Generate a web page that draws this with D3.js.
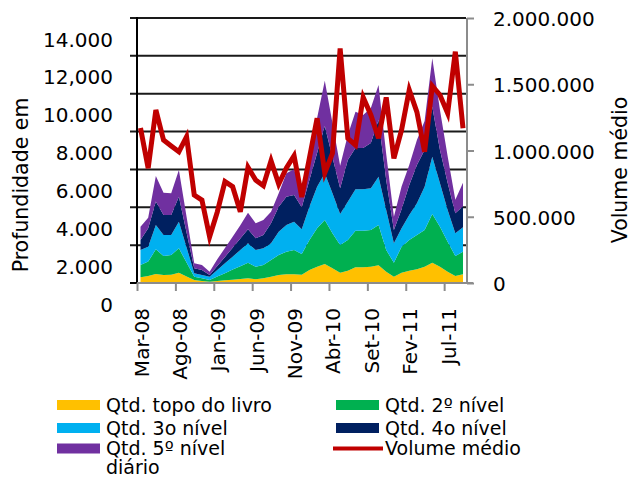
<!DOCTYPE html>
<html>
<head>
<meta charset="utf-8">
<script src="https://cdn.jsdelivr.net/npm/d3@7"></script>
<style>
  html, body { margin: 0; padding: 0; background: #fff; }
  svg text { font-family: "DejaVu Sans", Verdana, sans-serif; fill: #000; }
</style>
</head>
<body>
<svg id="chart" width="631" height="477"></svg>
<script>
// Monthly categories (Mar-08 .. Set-11)
const months = ["Mar-08","Abr-08","Mai-08","Jun-08","Jul-08","Ago-08","Set-08","Out-08","Nov-08","Dez-08",
  "Jan-09","Fev-09","Mar-09","Abr-09","Mai-09","Jun-09","Jul-09","Ago-09","Set-09","Out-09",
  "Nov-09","Dez-09","Jan-10","Fev-10","Mar-10","Abr-10","Mai-10","Jun-10","Jul-10","Ago-10",
  "Set-10","Out-10","Nov-10","Dez-10","Jan-11","Fev-11","Mar-11","Abr-11","Mai-11","Jun-11",
  "Jul-11","Ago-11","Set-11"];

// Book depth by level (stacked)
const topoLivro = [300,370,475,420,440,545,350,160,105,70,105,140,175,210,246,194,246,335,423,458,
  458,440,687,863,1004,775,546,652,828,828,863,933,599,335,546,652,722,863,1074,863,599,370,458];
const nivel2 = [650,760,1305,1010,1040,1285,730,175,140,90,235,380,535,680,828,669,705,880,1056,1197,
  1285,1092,1585,2025,2324,1849,1462,1620,1937,1937,1937,2131,1144,739,1373,1620,1814,1937,2571,2113,1585,1056,1197];
const nivel3 = [790,790,1280,1110,1060,1410,800,175,180,175,350,520,680,860,1022,880,880,881,1233,1409,
  1497,1303,1761,2201,2466,2114,1637,2025,2184,2184,2201,2554,2114,1022,969,1320,1673,2289,3030,2289,1673,1198,1286];
const nivel4 = [530,970,1240,1050,1050,1320,790,265,265,90,210,340,470,600,739,617,705,1057,1321,1497,
  1409,1165,1407,1781,2500,1912,1355,2201,2183,2183,2395,2993,1583,704,1012,1585,2025,1937,2639,1761,1443,1056,1109];
const nivel5 = [700,560,1350,1180,1150,1410,830,265,260,175,350,470,590,700,881,793,792,615,705,1233,
  1356,800,1320,1850,2396,1800,1200,1321,1918,1743,1849,1849,1375,700,1200,1057,1321,1534,2556,2114,1400,720,1250];

// Average daily volume (right axis)
const volumeMedio = [1170000,866000,1306000,1079000,1034000,991000,1104000,664000,626000,349000,
  536000,765000,727000,538000,873000,777000,734000,923000,747000,868000,
  961000,649000,943000,1243000,830000,979000,1771000,1092000,1041000,1401000,
  1268000,1092000,1401000,941000,1155000,1457000,1290000,991000,1487000,1419000,
  1281000,1746000,1167000];

const leftTicks = [0,2000,4000,6000,8000,10000,12000,14000];
const leftTickLabels = ["0","2.000","4.000","6.000","8.000","10.000","12,000","14.000"];
const rightTicks = [0,500000,1000000,1500000,2000000];
const rightTickLabels = ["0","500.000","1.000.000","1.500.000","2.000.000"];
const xTickIdx = [0,5,10,15,20,25,30,35,40];

const seriesKeys = ["topo","n2","n3","n4","n5"];
const seriesNames = ["Qtd. topo do livro","Qtd. 2º nível","Qtd. 3o nível","Qtd. 4o nível","Qtd. 5º nível"];
const seriesColors = ["#FFC000","#00B050","#00B0F0","#002060","#7030A0"];
const lineColor = "#C00000";

const rows = months.map((m, i) => ({
  i, topo: topoLivro[i], n2: nivel2[i], n3: nivel3[i], n4: nivel4[i], n5: nivel5[i], vol: volumeMedio[i]
}));

const svg = d3.select("#chart");
const plot = { left: 137, right: 466, top: 18, bottom: 283 };

const x = d3.scaleLinear().domain([0, months.length - 1]).range([140.5, 463]);
const xTick = d3.scaleLinear().domain([0, months.length - 1]).range([137, 459.5]);
const y = d3.scaleLinear().domain([0, 14000]).range([plot.bottom, plot.top]);
const y2 = d3.scaleLinear().domain([0, 2000000]).range([plot.bottom, plot.top]);

// horizontal gridlines
svg.append("g").selectAll("line").data(leftTicks.slice(1)).join("line")
  .attr("x1", 130).attr("x2", plot.right)
  .attr("y1", d => y(d)).attr("y2", d => y(d))
  .attr("stroke", "#1a1a1a").attr("stroke-width", 2);

// stacked areas
const stack = d3.stack().keys(seriesKeys);
const layers = stack(rows);
const area = d3.area().x(d => x(d.data.i)).y0(d => y(d[0])).y1(d => y(d[1]));
svg.append("g").selectAll("path").data(layers).join("path")
  .attr("d", area).attr("fill", (d, k) => seriesColors[k]);

// left axis
svg.append("line").attr("x1", plot.left).attr("x2", plot.left)
  .attr("y1", plot.top - 1).attr("y2", plot.bottom + 1)
  .attr("stroke", "#000").attr("stroke-width", 2);
svg.append("line").attr("x1", 130).attr("x2", plot.left)
  .attr("y1", y(0)).attr("y2", y(0)).attr("stroke", "#000").attr("stroke-width", 2);
svg.append("g").selectAll("text").data(leftTicks).join("text")
  .attr("x", 113).attr("y", d => y(d) + 21.5).attr("dy", "0.35em")
  .attr("text-anchor", "end").style("font-size", "20px")
  .text((d, k) => leftTickLabels[k]);

// bottom axis
const xAxis = d3.axisBottom(xTick).tickValues(xTickIdx).tickSize(8).tickFormat(() => "");
const gx = svg.append("g").attr("transform", `translate(0,${plot.bottom})`).call(xAxis);
gx.select(".domain").attr("stroke", "#8c8c8c").attr("stroke-width", 2)
  .attr("d", `M${plot.left},0H${plot.right + 7}`);
gx.selectAll(".tick line").attr("stroke", "#8c8c8c").attr("stroke-width", 2);
svg.append("g").selectAll("text").data(xTickIdx).join("text")
  .attr("transform", d => `translate(${xTick(d) + 4.5},308) rotate(-90)`)
  .attr("dy", "0.35em").attr("text-anchor", "end").style("font-size", "20px")
  .text(d => months[d]);

// right axis
const yAxisR = d3.axisRight(y2).tickValues(rightTicks).tickSize(7).tickFormat(() => "");
const gr = svg.append("g").attr("transform", `translate(${plot.right + 1},0)`).call(yAxisR);
gr.select(".domain").attr("stroke", "#8c8c8c").attr("stroke-width", 2)
  .attr("d", `M0,${plot.top}V${plot.bottom}`);
gr.selectAll(".tick line").attr("stroke", "#8c8c8c").attr("stroke-width", 2);
svg.append("g").selectAll("text").data(rightTicks).join("text")
  .attr("x", 493).attr("y", d => y2(d) + 1).attr("dy", "0.35em")
  .style("font-size", "20px")
  .text((d, k) => rightTickLabels[k]);

// average volume line
const line = d3.line().x(d => x(d.i)).y(d => y2(d.vol));
svg.append("path").datum(rows).attr("d", line)
  .attr("fill", "none").attr("stroke", lineColor).attr("stroke-width", 5);

// axis titles
svg.append("text").attr("transform", "translate(21,185) rotate(-90)")
  .attr("dy", "0.35em").attr("text-anchor", "middle").style("font-size", "20.5px")
  .text("Profundidade em");
svg.append("text").attr("transform", "translate(620,170) rotate(-90)")
  .attr("dy", "0.35em").attr("text-anchor", "middle").style("font-size", "20.5px")
  .text("Volume médio");

// legend
const legendItems = [
  { name: seriesNames[0], color: seriesColors[0], col: 0, row: 0 },
  { name: seriesNames[1], color: seriesColors[1], col: 1, row: 0 },
  { name: seriesNames[2], color: seriesColors[2], col: 0, row: 1 },
  { name: seriesNames[3], color: seriesColors[3], col: 1, row: 1 },
  { name: seriesNames[4], color: seriesColors[4], col: 0, row: 2 },
  { name: "Volume médio", color: lineColor, col: 1, row: 2, isLine: true }
];
const rowY = [405, 428, 448.5, 467.5];
const colX = [57, 336];
const lg = svg.append("g");
legendItems.forEach(it => {
  const cx = colX[it.col], cy = rowY[it.row];
  if (it.isLine) {
    lg.append("line").attr("x1", cx - 3).attr("x2", cx + 47).attr("y1", cy).attr("y2", cy)
      .attr("stroke", it.color).attr("stroke-width", 4);
  } else {
    lg.append("rect").attr("x", cx).attr("y", cy - 5).attr("width", 43).attr("height", 10)
      .attr("fill", it.color);
  }
  lg.append("text").attr("x", cx + 49).attr("y", cy).attr("dy", "0.35em")
    .style("font-size", "19px").text(it.name);
});
lg.append("text").attr("x", colX[0] + 49).attr("y", rowY[3]).attr("dy", "0.35em")
  .style("font-size", "19px").text("diário");
</script>
</body>
</html>
